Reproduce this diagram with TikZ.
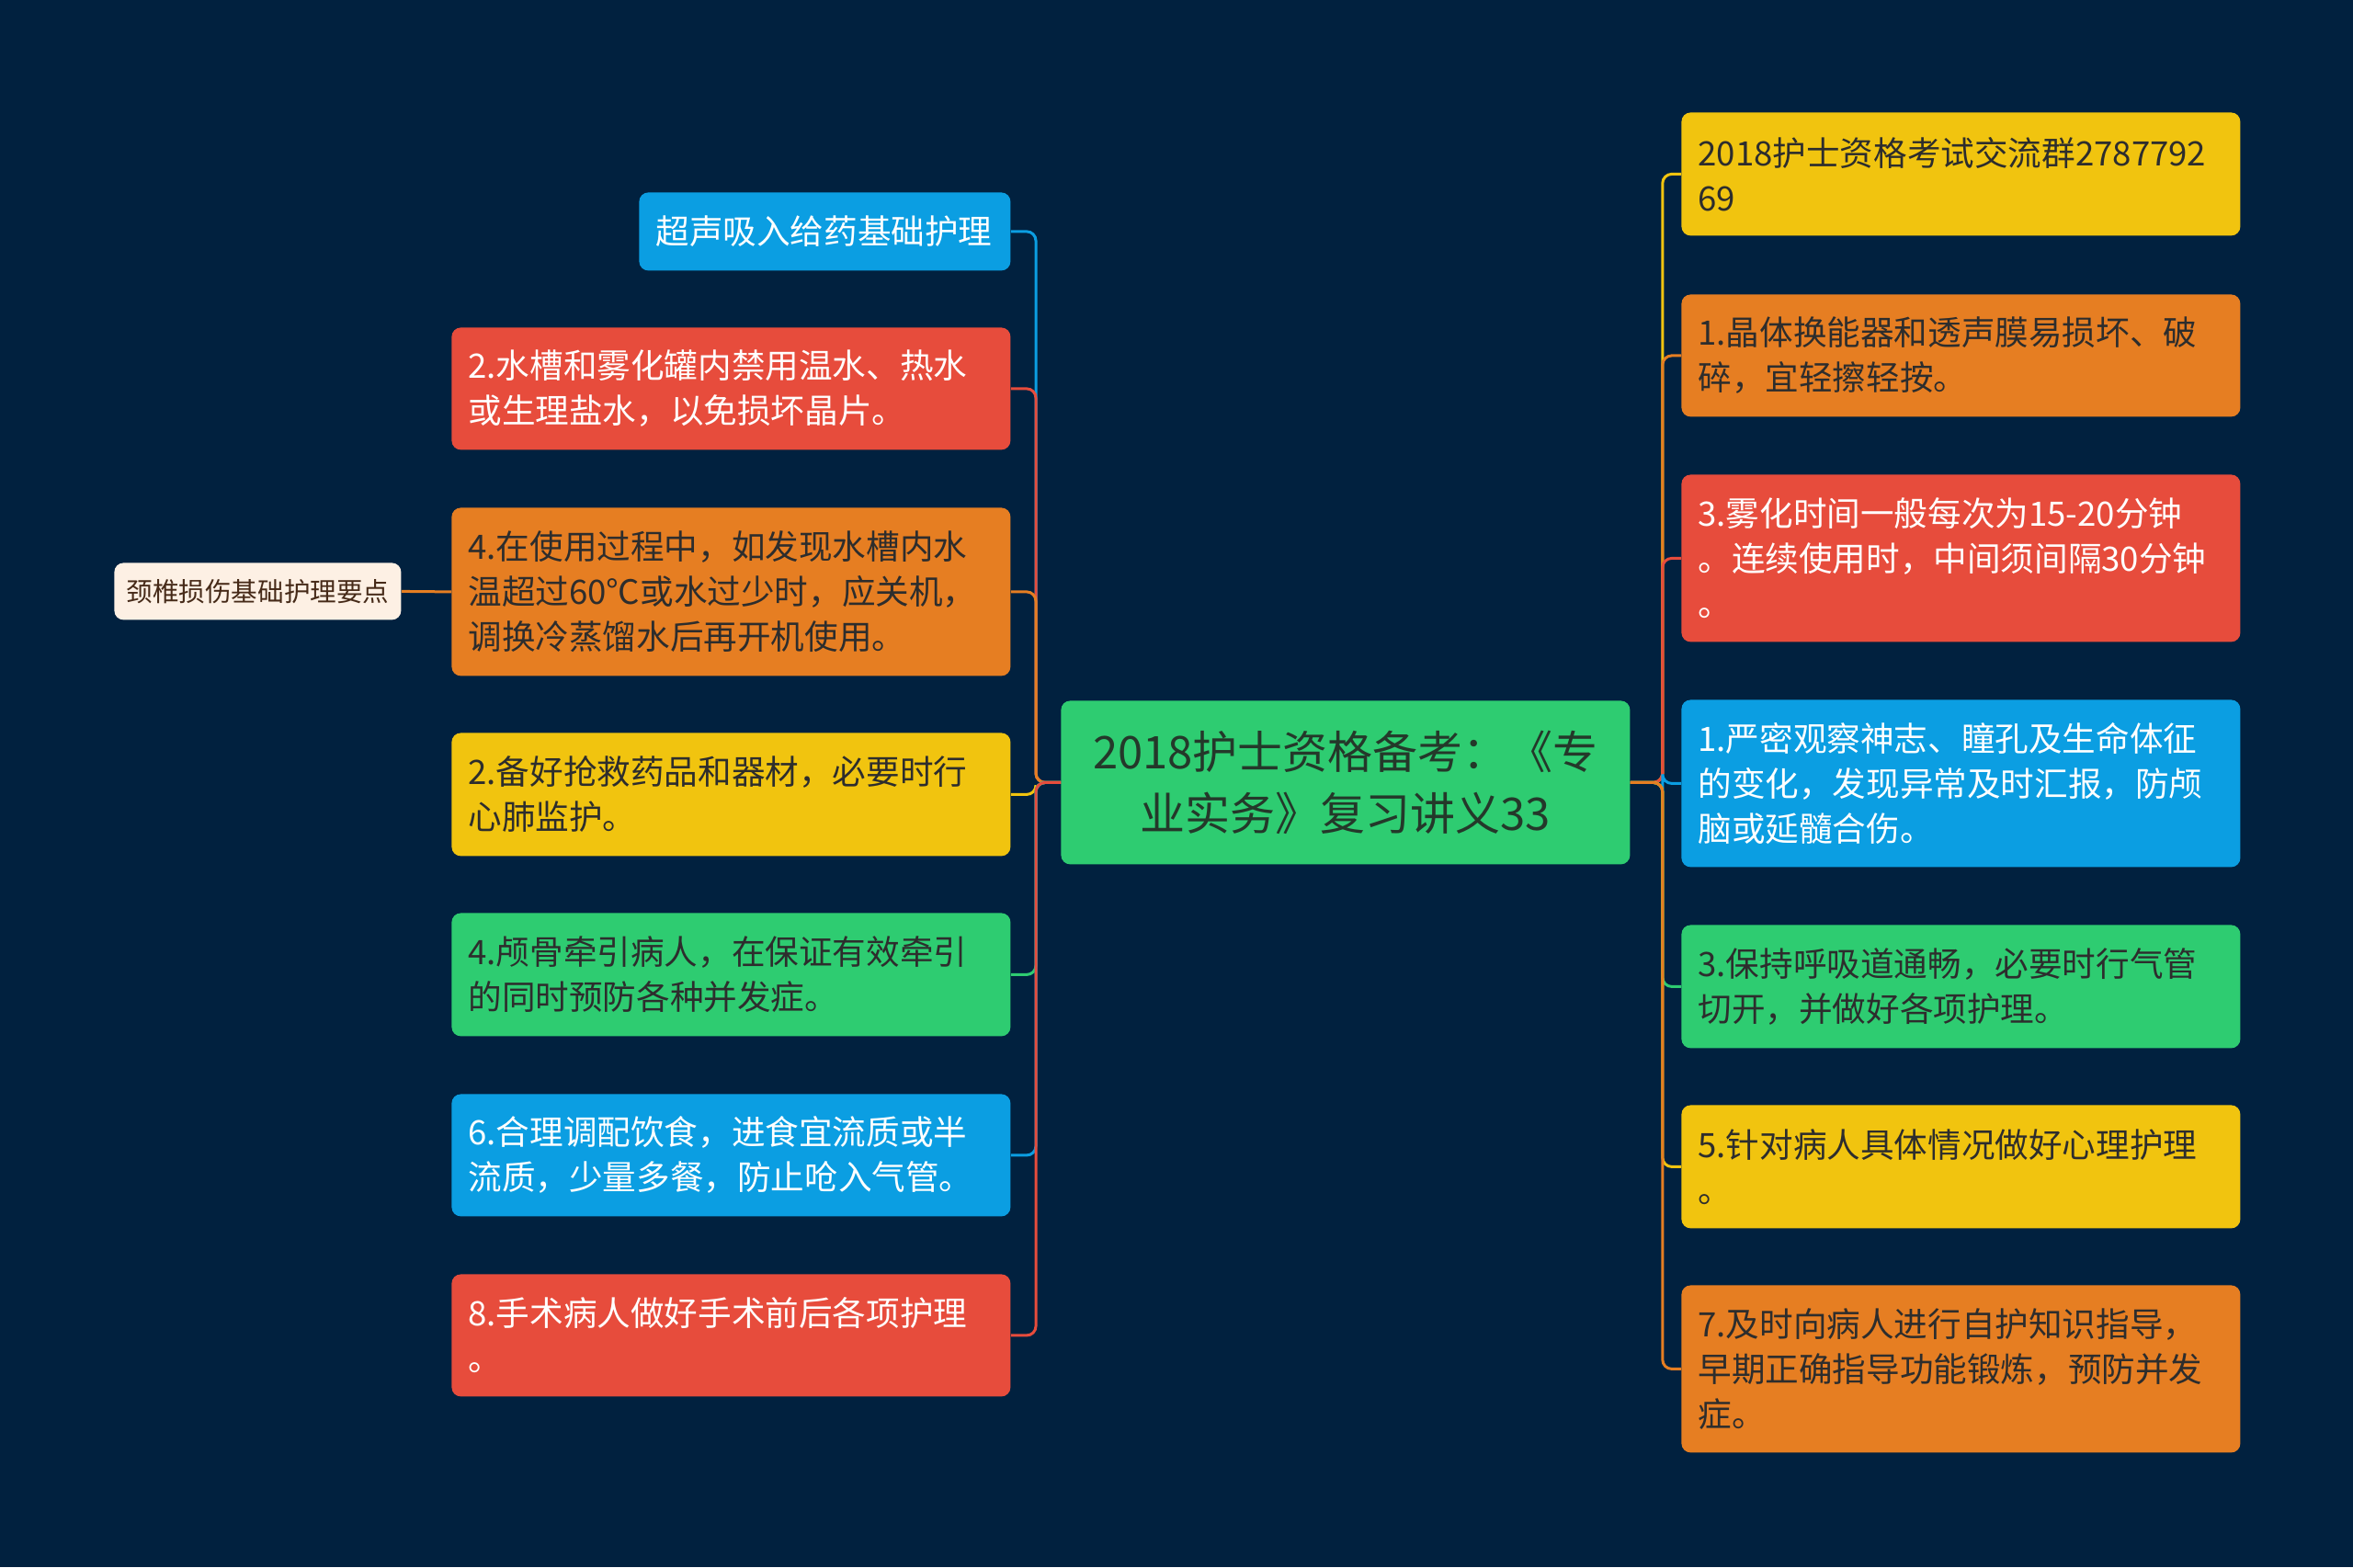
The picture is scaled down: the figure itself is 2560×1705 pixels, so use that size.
\documentclass[tikz,border=0pt]{standalone}
\usepackage{fontspec}
\setmainfont{Noto Sans CJK SC}
\definecolor{bg}{RGB}{1,33,63}
\definecolor{cblue}{RGB}{11,158,226}
\definecolor{cred}{RGB}{231,76,60}
\definecolor{corange}{RGB}{230,126,34}
\definecolor{cyellow}{RGB}{241,196,15}
\definecolor{cgreen}{RGB}{46,204,113}
\definecolor{ccream}{RGB}{253,240,228}
\definecolor{darktxt}{RGB}{45,45,45}
\definecolor{centertxt}{RGB}{36,56,42}
\definecolor{browntxt}{RGB}{70,42,24}
\begin{document}
\begin{tikzpicture}[x=0.5pt,y=-0.5pt,
  box/.style={rectangle, rounded corners=5pt, anchor=north west, inner xsep=9pt, inner ysep=0pt,
    align=left, font=\fontsize{18.3}{24.5}\selectfont},
  widebox/.style={box, text width=286pt},
  hh/.style={minimum height=#1*0.5pt},
  conn/.style={line width=1.5pt, rounded corners=5pt}
]
\fill[bg] (0,0) rectangle (2560,1705);
\useasboundingbox (0,0) rectangle (2560,1705);

% center
\node[rectangle, rounded corners=5pt, anchor=north west, fill=cgreen, text=centertxt,
  text width=290pt, inner xsep=9.75pt, inner ysep=0pt, align=center, hh=178,
  font=\fontsize{24.5}{33.5}\selectfont] (C) at (1154,762)
  {2018护士资格备考：《专\\业实务》复习讲义33};

% left
\node[box, fill=cblue, text=white, text width=184pt, hh=85] (L1) at (695,209) {超声吸入给药基础护理};
\node[widebox, fill=cred, text=white, hh=133] (L2) at (491,356) {2.水槽和雾化罐内禁用温水、热水\\或生理盐水，以免损坏晶片。};
\node[widebox, fill=corange, text=darktxt, hh=183] (L3) at (491,552) {4.在使用过程中，如发现水槽内水\\温超过60℃或水过少时，应关机，\\调换冷蒸馏水后再开机使用。};
\node[widebox, fill=cyellow, text=darktxt, hh=134] (L4) at (491,797) {2.备好抢救药品和器材，必要时行\\心肺监护。};
\node[widebox, fill=cgreen, text=darktxt, hh=134] (L5) at (491,993) {4.颅骨牵引病人，在保证有效牵引\\的同时预防各种并发症。};
\node[widebox, fill=cblue, text=white, hh=133] (L6) at (491,1190) {6.合理调配饮食，进食宜流质或半\\流质，少量多餐，防止呛入气管。};
\node[widebox, fill=cred, text=white, hh=133] (L7) at (491,1386) {8.手术病人做好手术前后各项护理\\。};

% small
\node[rectangle, rounded corners=5pt, anchor=north west, fill=ccream, text=browntxt,
  minimum width=156pt, hh=62, inner sep=0pt, font=\fontsize{14.3}{18}\selectfont] (S) at (124,612) {颈椎损伤基础护理要点};

% right
\node[widebox, fill=cyellow, text=darktxt, hh=134] (R1) at (1829,122) {2018护士资格考试交流群2787792\\69};
\node[widebox, fill=corange, text=darktxt, hh=133] (R2) at (1829,320) {1.晶体换能器和透声膜易损坏、破\\碎，宜轻擦轻按。};
\node[widebox, fill=cred, text=white, hh=182] (R3) at (1829,516) {3.雾化时间一般每次为15-20分钟\\。连续使用时，中间须间隔30分钟\\。};
\node[widebox, fill=cblue, text=white, hh=182] (R4) at (1829,761) {1.严密观察神志、瞳孔及生命体征\\的变化，发现异常及时汇报，防颅\\脑或延髓合伤。};
\node[widebox, fill=cgreen, text=darktxt, hh=134] (R5) at (1829,1006) {3.保持呼吸道通畅，必要时行气管\\切开，并做好各项护理。};
\node[widebox, fill=cyellow, text=darktxt, hh=134] (R6) at (1829,1202) {5.针对病人具体情况做好心理护理\\。};
\node[widebox, fill=corange, text=darktxt, hh=182] (R7) at (1829,1398) {7.及时向病人进行自护知识指导，\\早期正确指导功能锻炼，预防并发\\症。};

% connectors
\foreach \n/\c in {L1/cblue, L2/cred, L3/corange, L4/cyellow, L5/cgreen, L6/cblue, L7/cred}
  \draw[conn, draw=\c] (C.west) -- ++(-27,0) |- (\n.east);
\foreach \n/\c in {R1/cyellow, R2/corange, R3/cred, R4/cblue, R5/cgreen, R6/cyellow, R7/corange}
  \draw[conn, draw=\c] (C.east) -- ++(35,0) |- (\n.west);
\draw[line width=1.5pt, draw=corange] (L3.west) -- (S.east);
\end{tikzpicture}
\end{document}
